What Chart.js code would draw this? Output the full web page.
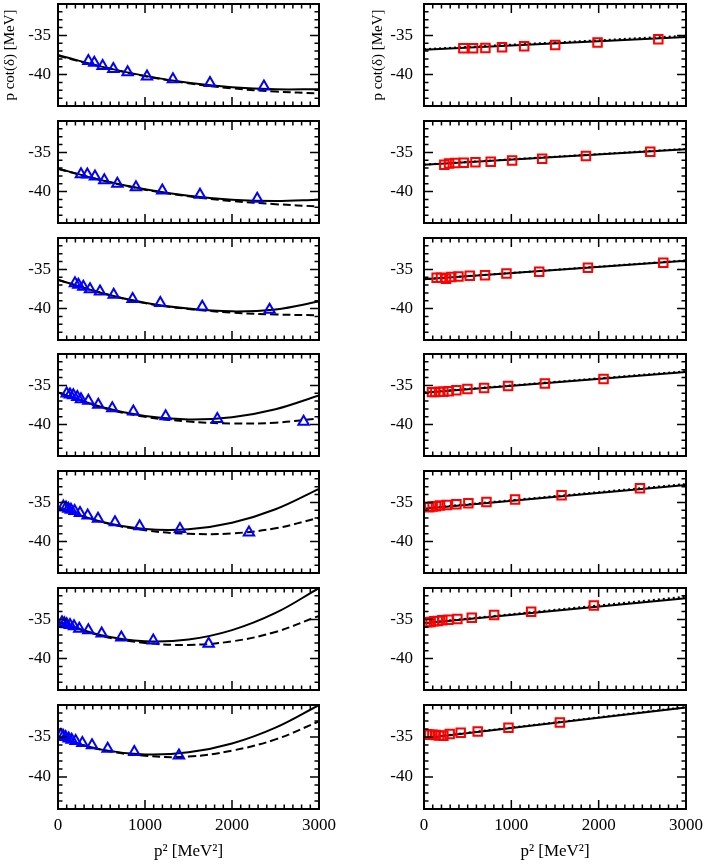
<!DOCTYPE html>
<html>
<head>
<meta charset="utf-8">
<script src="https://cdn.jsdelivr.net/npm/chart.js@4.4.1/dist/chart.umd.min.js"></script>
<style>
  html, body { margin: 0; padding: 0; background: #fff; }
  #wrap { position: relative; width: 706px; height: 866px; overflow: hidden; background: #fff; }
  canvas { position: absolute; }
</style>
</head>
<body>
<div id="wrap"></div>
<script>
const curveP2 = [0, 500, 1000, 1500, 2000, 2500, 3000];
const lineP2 = [0, 3000];
const xTicks = [0, 1000, 2000, 3000];
const yTicks = [-40, -35];

// left column: blue triangles + solid / dashed fits
const triP2 = [
  [349, 417, 513, 636, 800, 1023, 1321, 1747, 2367],
  [264, 337, 425, 532, 682, 896, 1199, 1632, 2290],
  [195, 234, 291, 368, 483, 640, 858, 1176, 1658, 2432],
  [100, 138, 176, 222, 264, 349, 463, 624, 866, 1237, 1831, 2823],
  [61, 92, 119, 149, 191, 253, 341, 460, 655, 938, 1402, 2195],
  [46, 73, 100, 138, 184, 245, 349, 502, 728, 1095, 1732],
  [34, 61, 88, 123, 157, 203, 280, 391, 571, 877, 1390]
];
const triPcot = [
  [-38.28, -38.48, -38.9, -39.3, -39.7, -40.25, -40.6, -41.07, -41.5],
  [-37.78, -37.82, -38.06, -38.55, -39.0, -39.45, -39.86, -40.4, -40.92],
  [-36.76, -36.96, -37.2, -37.54, -37.83, -38.24, -38.77, -39.3, -39.75, -40.16],
  [-36.02, -36.15, -36.27, -36.48, -36.76, -36.97, -37.46, -37.9, -38.32, -38.93, -39.3, -39.62],
  [-35.53, -35.66, -35.82, -35.94, -36.1, -36.35, -36.68, -37.09, -37.54, -38.03, -38.4, -38.85],
  [-35.37, -35.49, -35.61, -35.7, -35.86, -36.19, -36.39, -36.8, -37.3, -37.7, -38.11],
  [-34.75, -34.88, -35.0, -35.2, -35.33, -35.49, -35.74, -36.02, -36.48, -36.89, -37.3]
];
const solidLeft = [
  [-37.5, -38.98, -40.16, -41.03, -41.6, -41.87, -41.85],
  [-37.04, -38.54, -39.7, -40.54, -41.04, -41.2, -41.04],
  [-36.3, -38.0, -39.25, -40.0, -40.35, -40.1, -39.1],
  [-35.9, -37.75, -38.91, -39.35, -39.05, -38.03, -36.27],
  [-35.66, -37.46, -38.39, -38.43, -37.6, -35.88, -33.28],
  [-35.29, -37.03, -37.79, -37.57, -36.37, -34.18, -31.0],
  [-35.12, -36.58, -37.18, -36.92, -35.81, -33.83, -31.0]
];
const dashLeft = [
  [-37.6, -39.0, -40.2, -41.1, -41.75, -42.15, -42.4],
  [-37.1, -38.55, -39.75, -40.6, -41.2, -41.6, -41.9],
  [-36.35, -38.0, -39.3, -40.05, -40.5, -40.75, -40.85],
  [-35.9, -37.8, -39.0, -39.6, -39.85, -39.75, -39.2],
  [-35.7, -37.5, -38.55, -39.0, -38.95, -38.3, -36.95],
  [-35.35, -37.1, -38.0, -38.25, -37.8, -36.6, -34.55],
  [-35.15, -36.6, -37.35, -37.45, -36.7, -35.3, -33.05]
];

// right column: red squares + solid / dotted fits
const sqP2 = [
  [451, 562, 703, 894, 1147, 1502, 1987, 2683],
  [233, 287, 356, 455, 589, 764, 1009, 1353, 1854, 2591],
  [145, 195, 252, 313, 394, 524, 699, 944, 1319, 1877, 2740],
  [92, 130, 172, 222, 283, 371, 497, 688, 963, 1384, 2056],
  [61, 99, 138, 183, 260, 371, 508, 715, 1043, 1575, 2473],
  [38, 76, 115, 157, 210, 279, 382, 547, 803, 1227, 1945],
  [31, 61, 96, 134, 172, 222, 294, 420, 615, 967, 1556]
];
const sqPcot = [
  [-36.64, -36.64, -36.6, -36.52, -36.39, -36.23, -35.9, -35.49],
  [-36.59, -36.43, -36.35, -36.31, -36.27, -36.18, -36.02, -35.82, -35.45, -34.92],
  [-36.07, -36.07, -36.19, -35.98, -35.9, -35.82, -35.74, -35.53, -35.29, -34.8, -34.14],
  [-35.86, -35.86, -35.82, -35.82, -35.74, -35.61, -35.45, -35.33, -35.08, -34.75, -34.18],
  [-35.61, -35.53, -35.49, -35.41, -35.33, -35.25, -35.12, -34.96, -34.63, -34.1, -33.2],
  [-35.37, -35.33, -35.25, -35.2, -35.12, -35.04, -34.96, -34.8, -34.43, -34.02, -33.24],
  [-34.67, -34.71, -34.71, -34.75, -34.8, -34.84, -34.63, -34.47, -34.3, -33.85, -33.2]
];
const solidRight = [
  [-36.84, -35.2], [-36.59, -34.6], [-36.27, -33.9], [-35.94, -33.28],
  [-35.82, -32.79], [-35.49, -32.3], [-35.16, -31.31]
];
const dotRight = [
  [-36.76, -35.05], [-36.55, -34.55], [-36.25, -33.85], [-35.9, -33.2],
  [-35.75, -32.66], [-35.45, -32.1], [-35.1, -31.25]
];

const serif = "'Liberation Serif', 'DejaVu Serif', serif";
const wrap = document.getElementById('wrap');

const pts = (xs, ys) => xs.map((x, i) => ({ x: x, y: ys[i] }));

// frame + inward ticks on all four sides, like the original plot
const framePlugin = {
  id: 'frame',
  afterDraw(chart) {
    const { ctx, chartArea: a, scales } = chart;
    const x = scales.x, y = scales.y;
    ctx.save();
    ctx.strokeStyle = '#000';
    ctx.lineWidth = 1.5;
    ctx.beginPath();
    for (let v = 0; v <= 3000; v += 100) {
      const px = x.getPixelForValue(v);
      const len = v % 1000 === 0 ? 9 : 4.5;
      ctx.moveTo(px, a.top); ctx.lineTo(px, a.top + len);
      ctx.moveTo(px, a.bottom); ctx.lineTo(px, a.bottom - len);
    }
    for (let v = -44; v <= -31; v++) {
      const py = y.getPixelForValue(v);
      const len = v % 5 === 0 ? 9 : 4.5;
      ctx.moveTo(a.left, py); ctx.lineTo(a.left + len, py);
      ctx.moveTo(a.right, py); ctx.lineTo(a.right - len, py);
    }
    ctx.stroke();
    ctx.lineWidth = 2;
    ctx.strokeRect(a.left, a.top, a.right - a.left, a.bottom - a.top);
    ctx.restore();
  }
};

function makePanel(row, right) {
  const last = row === 6;
  const top = Math.round(2 + 116.8 * row);
  const cv = document.createElement('canvas');
  const w = 340;
  const h = last ? 866 - (top - 6) : 118;
  cv.width = w; cv.height = h;
  cv.style.left = (right ? 366 : 0) + 'px';
  cv.style.top = (top - 6) + 'px';
  cv.style.width = w + 'px'; cv.style.height = h + 'px';
  wrap.appendChild(cv);

  let datasets;
  if (!right) {
    datasets = [
      { data: pts(triP2[row], triPcot[row]), showLine: false, pointStyle: 'triangle',
        pointRadius: 6, pointBorderColor: '#0000ff', pointBackgroundColor: 'rgba(0,0,0,0)', pointBorderWidth: 2 },
      { data: pts(curveP2, solidLeft[row]), showLine: true, borderColor: '#000', borderWidth: 2,
        pointRadius: 0, tension: 0.4 },
      { data: pts(curveP2, dashLeft[row]), showLine: true, borderColor: '#000', borderWidth: 2,
        borderDash: [8, 4], pointRadius: 0, tension: 0.4 }
    ];
  } else {
    datasets = [
      { data: pts(sqP2[row], sqPcot[row]), showLine: false, pointStyle: 'rect',
        pointRadius: 6, pointBorderColor: '#ff0000', pointBackgroundColor: 'rgba(0,0,0,0)', pointBorderWidth: 2 },
      { data: pts(lineP2, solidRight[row]), showLine: true, borderColor: '#000', borderWidth: 2, pointRadius: 0 },
      { data: pts(lineP2, dotRight[row]), showLine: true, borderColor: '#000', borderWidth: 2,
        borderDash: [2, 3], pointRadius: 0 }
    ];
  }

  const xScale = {
    type: 'linear', min: 0, max: 3000, display: last,
    afterBuildTicks: s => { s.ticks = xTicks.map(v => ({ value: v })); },
    afterFit: s => {
      s.paddingLeft = 0; s.paddingRight = 0;
      if (last) s.height = h - 6 - 106;
    },
    grid: { display: false, drawTicks: false },
    border: { display: false },
    ticks: { autoSkip: false, maxRotation: 0, padding: 6, color: '#000',
      font: { family: serif, size: 17 }, callback: v => String(v) },
    title: { display: last, text: 'p² [MeV²]', color: '#000',
      font: { family: serif, size: 17 }, padding: { top: 2, bottom: 4 } }
  };

  new Chart(cv, {
    type: 'scatter',
    data: { datasets: datasets },
    options: {
      responsive: false,
      animation: false,
      events: [],
      layout: { padding: { top: 6, bottom: last ? 0 : 6, left: 0, right: right ? 20 : 21 } },
      plugins: { legend: { display: false }, tooltip: { enabled: false } },
      scales: {
        x: xScale,
        y: {
          type: 'linear', min: -44, max: -31,
          afterBuildTicks: s => { s.ticks = yTicks.map(v => ({ value: v })); },
          afterFit: s => { s.width = 58; s.paddingTop = 0; s.paddingBottom = 0; },
          grid: { display: false, drawTicks: false },
          border: { display: false },
          ticks: { autoSkip: false, padding: right ? 11 : 7, color: '#000',
            font: { family: serif, size: 17 }, callback: v => String(v) },
          title: { display: row === 0, text: 'p cot(δ) [MeV]', color: '#000',
            font: { family: serif, size: 15 }, padding: { top: right ? 3 : 1, bottom: 0 } }
        }
      }
    },
    plugins: [framePlugin]
  });
}

for (let r = 0; r < 7; r++) {
  makePanel(r, false);
  makePanel(r, true);
}
</script>
</body>
</html>
